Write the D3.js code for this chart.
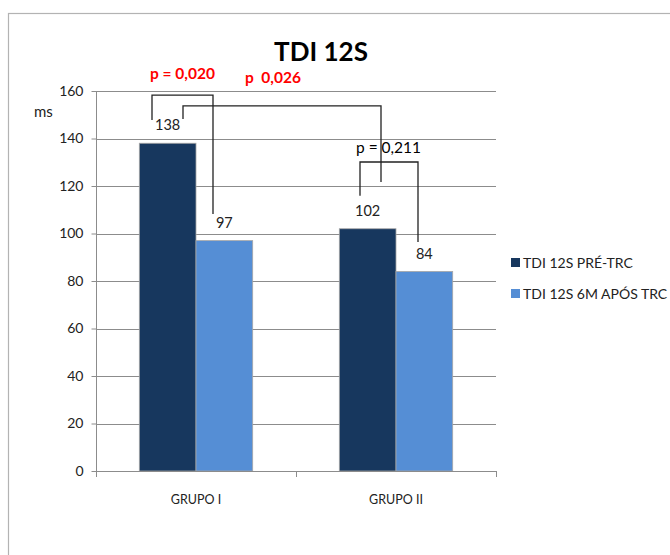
<!DOCTYPE html>
<html><head><meta charset="utf-8">
<script src="https://cdn.jsdelivr.net/npm/d3@7"></script>
<style>
html,body{margin:0;padding:0;background:#fff;}
svg{display:block;font-family:Lato,"Open Sans",sans-serif;}
</style></head>
<body><svg id="c" width="670" height="555"></svg>
<script>
const title = "TDI 12S";
const categories = ["GRUPO I", "GRUPO II"];
const seriesNames = ["TDI 12S PRÉ-TRC", "TDI 12S 6M APÓS TRC"];
const preValues = [138, 102];
const postValues = [97, 84];
const seriesColors = ["#17375E", "#558ED5"];
const yTicks = [0, 20, 40, 60, 80, 100, 120, 140, 160];
const yUnit = "ms";
// brackets: [group, band fraction, value] points
const brackets = [
  {pts: [[0, 0.28, 147.8], [0, 0.28, 158.3], [0, 0.585, 158.3], [0, 0.585, 108.2]]},
  {pts: [[0, 0.435, 148.2], [0, 0.435, 153.7], [1, 0.425, 153.7], [1, 0.425, 121.7]]},
  {pts: [[1, 0.32, 115.9], [1, 0.32, 130.1], [1, 0.61, 130.1], [1, 0.61, 96.4]]}
];
const pLabels = [
  {text: "p = 0,020", x: 150, y: 79, color: "#FF0000", bold: true},
  {text: "p  0,026", x: 245, y: 83, color: "#FF0000", bold: true},
  {text: "p = 0,211", x: 356, y: 153, color: "#000000", bold: false}
];

const svg = d3.select("#c");
const m = {left: 96, right: 496, top: 91, bottom: 471};

svg.append("rect").attr("x", 8.5).attr("y", 13.5).attr("width", 700).attr("height", 600)
  .attr("fill", "#fff").attr("stroke", "#b3b3b3").attr("stroke-width", 1.2);

const y = d3.scaleLinear().domain([0, 160]).range([m.bottom, m.top]);
const x0 = d3.scaleBand().domain(categories).range([m.left, m.right]).paddingInner(0).paddingOuter(0);
const x1 = d3.scaleBand().domain([0, 1]).range([0, x0.bandwidth()]).paddingInner(0).paddingOuter(0.764);

// gridlines
svg.append("g").selectAll("line").data(yTicks.filter(d => d > 0)).join("line")
  .attr("x1", m.left).attr("x2", m.right)
  .attr("y1", d => Math.round(y(d)) + 0.5).attr("y2", d => Math.round(y(d)) + 0.5)
  .attr("stroke", "#8c8c8c").attr("stroke-width", 1);

// bars
const data = categories.map((c, i) => ({c, vals: [preValues[i], postValues[i]]}));
const g = svg.append("g").selectAll("g").data(data).join("g")
  .attr("transform", d => `translate(${x0(d.c)},0)`);
g.selectAll("rect").data(d => d.vals.map((v, k) => ({v, k}))).join("rect")
  .attr("x", d => x1(d.k)).attr("width", x1.bandwidth())
  .attr("y", d => y(d.v)).attr("height", d => y(0) - y(d.v))
  .attr("fill", d => seriesColors[d.k]).attr("stroke", "#a6a6a6").attr("stroke-width", 0.8);
g.selectAll("text").data(d => d.vals.map((v, k) => ({v, k}))).join("text")
  .attr("x", d => x1(d.k) + x1.bandwidth() / 2).attr("y", d => y(d.v) - 13)
  .attr("text-anchor", "middle").attr("font-size", 14.5).attr("fill", "#222").text(d => d.v);

// y axis
const yAxis = svg.append("g").attr("transform", `translate(${m.left + 0.5},0)`)
  .call(d3.axisLeft(y).tickValues(yTicks).tickSize(5).tickPadding(8));
yAxis.select(".domain").attr("stroke", "#8c8c8c").attr("d", `M0,${m.top}V${m.bottom}`);
yAxis.selectAll(".tick line").attr("stroke", "#8c8c8c");
yAxis.selectAll(".tick text").attr("font-size", 14).attr("fill", "#222").attr("font-family", "Lato");

// x axis
const xAxis = svg.append("g").attr("transform", `translate(0,${m.bottom + 0.5})`)
  .call(d3.axisBottom(x0).tickSize(0).tickPadding(24));
xAxis.select(".domain").attr("stroke", "#8c8c8c").attr("d", `M${m.left},0H${m.right}`);
xAxis.selectAll(".tick text").attr("font-size", 12.5).attr("fill", "#222").attr("font-family", "Lato");
svg.append("g").selectAll("line").data([m.left, x0(categories[1]), m.right]).join("line")
  .attr("x1", d => d + 0.5).attr("x2", d => d + 0.5).attr("y1", m.bottom).attr("y2", m.bottom + 6)
  .attr("stroke", "#8c8c8c");

// brackets
const line = d3.line().x(p => x0(categories[p[0]]) + p[1] * x0.bandwidth()).y(p => y(p[2]));
svg.append("g").selectAll("path").data(brackets).join("path")
  .attr("d", d => line(d.pts)).attr("fill", "none").attr("stroke", "#222").attr("stroke-width", 1.3);

svg.append("g").selectAll("text").data(pLabels).join("text")
  .attr("x", d => d.x).attr("y", d => d.y).attr("fill", d => d.color)
  .attr("font-weight", d => d.bold ? "bold" : "normal").attr("font-size", 15.5)
  .attr("xml:space", "preserve").style("white-space", "pre").text(d => d.text);

// title
svg.append("text").attr("x", 321).attr("y", 61).attr("text-anchor", "middle")
  .attr("font-size", 26).attr("font-weight", "bold").attr("fill", "#000").text(title);
svg.append("text").attr("x", 34).attr("y", 117).attr("font-size", 15).attr("fill", "#222").text(yUnit);

// legend
const lg = svg.append("g").selectAll("g").data(seriesNames).join("g")
  .attr("transform", (d, i) => `translate(511,${258 + i * 31})`);
lg.append("rect").attr("width", 9).attr("height", 9).attr("fill", (d, i) => seriesColors[i]);
lg.append("text").attr("x", 12).attr("y", 9.5).attr("font-size", 14).attr("fill", "#222").text(d => d);
</script></body></html>
